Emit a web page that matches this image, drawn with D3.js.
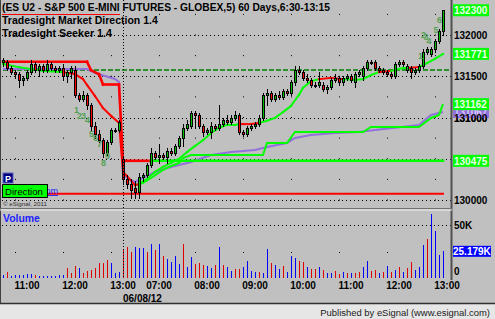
<!DOCTYPE html>
<html>
<head>
<meta charset="utf-8">
<script src="https://cdn.jsdelivr.net/npm/d3@7"></script>
<style>
body { margin: 0; background: #c0c0c0; }
svg { display: block; }
</style>
</head>
<body>
<div id="chart"></div>
<script>
const W = 495
const H = 319

// 5 minute bars, index 0 = 10:30 of the previous session, 33 = 06:30 on 06/08/12
const opens = [1316.75,1316.75,1316,1315.5,1315.25,1314.5,1314.75,1315.5,1316.5,1315.75,1316.25,1315.75,1316.5,1316,1315.75,1316,1315,1315.5,1315.75,1312.75,1312.25,1312.75,1311.5,1309,1308,1307.25,1305.75,1307,1308.5,1308.5,1305,1302.5,1302,1301.5,1301,1302.75,1303,1304.25,1305.75,1305.25,1305.5,1305.25,1306,1305.75,1306.5,1307.5,1308.75,1309,1310.5,1310.25,1309,1308.25,1308.25,1309,1308.75,1309.25,1309.75,1309.5,1310,1310.25,1308.25,1308,1308.75,1309,1309.25,1310,1312.75,1313,1312.25,1312.75,1312.5,1313.25,1313,1314.25,1315.75,1315.5,1314.75,1314.5,1314,1314,1314,1313.5,1313.75,1314.5,1314.75,1314.25,1314.75,1315,1314.25,1315.25,1315,1316,1316.75,1316.75,1316,1315.75,1315.5,1315.25,1315,1316.5,1316.75,1315.75,1316,1315.5,1315.75,1316.25,1318,1317.75,1318.25,1319.25,1320.5]
const highs = [1317.25,1317,1316.25,1315.75,1315.5,1315,1315.75,1317,1316.75,1316.5,1316.5,1317,1316.75,1316.25,1316.25,1316.5,1315.75,1316.25,1316.25,1313,1313.25,1313,1311.75,1309.5,1308.5,1307.5,1307.25,1308.75,1308.75,1309.75,1305.25,1303,1302.5,1302.25,1303.25,1303.25,1304.5,1306.25,1306,1306.75,1305.75,1306.25,1306.25,1306.75,1307.75,1309.25,1309.75,1310.75,1310.75,1310.5,1309.25,1308.75,1309.5,1309.25,1311.5,1310,1310.25,1310.25,1310.75,1310.5,1308.5,1309,1309.25,1309.5,1310.25,1313,1313.5,1313.25,1313,1313.25,1313.5,1313.5,1314.5,1316.25,1316.25,1315.75,1315.25,1314.75,1314.25,1315.5,1314.25,1314,1314.75,1315.25,1315,1315,1315.25,1315.25,1315.5,1315.75,1316.25,1317,1317,1317,1316.25,1316,1315.75,1315.5,1316.75,1317,1317,1316.5,1316.25,1316,1316.5,1318.25,1318.5,1318.5,1319.5,1320.75,1323]
const lows = [1316.25,1315.75,1315.25,1314.75,1313.75,1314,1314.5,1315.25,1315.5,1315,1315.5,1315.5,1315.75,1315.5,1315.5,1314.5,1314.25,1314.75,1312.5,1312,1312,1311,1308.5,1307.5,1307,1305.25,1305.5,1306.75,1308.25,1308.25,1302,1301.5,1300.25,1300.25,1300.25,1302.25,1302.75,1304,1305,1304.5,1305,1304.5,1305.5,1305.5,1306.25,1306.5,1308.5,1308.75,1308.75,1308.75,1307.75,1308,1307.5,1308.5,1308.5,1309,1309.25,1309.25,1309.75,1308,1307.75,1307.75,1308.5,1308.75,1309,1309.75,1311.5,1312,1312,1312.25,1312.25,1312.75,1312.75,1314,1315.25,1314.5,1314.25,1313.75,1313.75,1313.75,1313.25,1313,1313.5,1314.25,1314,1314,1314.5,1314.25,1313.75,1315,1314.5,1315.75,1316.5,1315.75,1315.5,1315.25,1315,1314.75,1314.75,1316.25,1316.25,1315.5,1314.75,1315.25,1315.5,1316,1317.75,1317.5,1318,1319,1320]
const closes = [1317,1316,1315.5,1315.25,1314.5,1314.75,1315.5,1316.5,1315.75,1316.25,1315.75,1316.5,1316,1315.75,1316,1315,1315.5,1316,1312.75,1312.25,1312.75,1311.5,1309,1308,1307.25,1305.75,1307,1308.5,1308.5,1309.5,1302.5,1302,1301.25,1301,1302.75,1303,1304.25,1305.75,1305.25,1305.5,1305.25,1306,1305.75,1306.5,1307.5,1308.75,1309.25,1310.5,1310.25,1309,1308.25,1308.5,1309,1308.75,1309.25,1309.75,1309.5,1310,1310.25,1308.25,1308,1308.75,1309,1309.25,1310,1312.75,1313,1312.25,1312.75,1312.5,1313.25,1313,1314.25,1315.75,1315.5,1314.75,1314.5,1314,1314,1314.25,1313.5,1313.75,1314.5,1314.75,1314.25,1314.75,1315,1314.5,1315.25,1315.5,1316,1316.75,1316.75,1316,1315.75,1315.5,1315.25,1315,1316.5,1316.75,1316.5,1316.25,1315.5,1315.75,1316.25,1318,1318.25,1318.25,1319.25,1320.5,1323]

// volume in thousands, and 1 = up (blue) / 0 = down (red)
const volumes = [2.8,6.0,1.9,2.8,2.8,2.8,3.5,3.5,2.8,1.9,1.9,1.9,1.9,1.9,2.8,2.8,9.1,4.4,11.3,9.1,4.4,6.9,7.5,9.1,13.8,13.8,17.0,14.5,5.0,6.0,27.0,29.6,24.8,29.6,28.0,28.0,24.8,32.1,26.4,32.1,21.1,17.9,15.4,21.1,12.9,32.1,10.7,19.8,13.2,14.5,12.3,11.3,9.1,12.3,28.9,12.3,10.7,6.9,8.2,8.2,10.7,16.4,6.6,6.0,6.0,5.0,27.0,13.8,12.3,8.5,11.3,6.0,20.8,19.2,16.0,15.4,10.1,8.8,8.5,10.1,7.5,5.0,5.0,6.9,3.8,6.0,4.4,5.0,5.0,6.0,10.7,16.4,6.9,7.5,5.0,6.0,11.3,6.0,7.5,10.1,6.0,9.1,14.8,7.5,10.7,31.1,36.5,60.4,44.7,21.7,25.179]
const volUp = [1,0,1,1,1,1,1,1,0,1,1,1,1,1,1,1,0,0,0,1,0,0,0,0,0,0,0,1,1,1,0,0,0,1,1,1,0,1,0,1,0,1,1,1,1,0,1,1,0,0,0,1,1,0,1,0,1,1,0,0,1,1,1,1,0,1,1,0,1,1,0,1,1,1,0,0,1,0,0,1,0,1,1,0,0,1,0,1,0,0,1,1,0,0,1,0,1,0,1,0,1,0,0,1,1,1,0,1,1,1,1]

// Tradesight Market Direction step line (bar index, price); 1 = green segment
const dirIdx = [0, 21, 22, 24, 25, 29, 30, 37, 110]
const dirVal = [1316.75, 1316.75, 1315.75, 1315.25, 1314.0, 1314.0, 1304.75, 1304.75, 1304.75]
const dirUp = [0, 0, 0, 0, 0, 0, 0, 1, 1]

// Tradesight Seeker fast line
const seekIdx = [0,4,10,15,18,20,21,23,25,27,29,30,31,33,34,36,38,40,42,44,46,48,50,52,54,56,58,59,60,62,64,66,68,70,72,74,75,77,79,82,85,88,90,92,94,97,100,101,104,106,108,110]
const seekVal = [1316.5,1316.1,1315.65,1315.5,1315.25,1314.65,1313.95,1312.6,1311.15,1310.2,1309.35,1303.4,1302.9,1301.8,1301.95,1302.55,1303.4,1304.0,1304.5,1305.0,1305.8,1306.55,1307.25,1308.1,1308.75,1309.1,1309.1,1309.2,1309.2,1309.2,1309.35,1309.6,1309.95,1310.65,1311.4,1312.75,1313.6,1314.4,1314.65,1314.8,1314.65,1314.55,1314.65,1315.15,1315.5,1315.65,1316.0,1316.0,1316.1,1316.6,1317.1,1317.71]
const seekUp = [1,1,1,0,0,0,0,0,0,0,0,0,0,0,1,1,1,1,1,1,1,1,1,1,1,1,1,0,0,0,1,1,1,1,1,1,1,1,0,0,1,1,1,1,0,1,1,0,1,1,1,1]

// Seeker slow trail (green)
const trailIdx = [33,35,37,40,42,44,45,47,65,66,71,73,90,92,104,107,109,110]
const trailVal = [1301.82,1302.06,1302.67,1303.64,1304.12,1304.48,1305.09,1305.45,1305.45,1306.91,1306.91,1308.24,1308.24,1308.85,1308.85,1309.94,1310.3,1311.62]

// purple average
const avgIdx = [0,21,23,28,29,30,32,33,35,38,41,44,47,52,57,63,66,71,73,77,83,89,93,104,107,110]
const avgVal = [1315.88,1315.88,1315.39,1314.67,1314.3,1303.03,1302.42,1302.18,1302.67,1303.39,1303.88,1304.24,1304.61,1305.45,1305.82,1306.06,1306.42,1306.91,1307.52,1307.88,1308.12,1308.24,1308.48,1309.09,1310.3,1310.67]

const dashLevel = 1315.75
const redLevel = 1300.75

// bar counts
const countText = ['1','2','3','4','5','6','7','8','9','1','2','3','4','5','6']
const countIdx = [18.25,19,20,21,22,23,24,25,26,104.25,105,105.6,106.4,108.1,109]
const countVal = [1310.91,1310.24,1310.24,1309.7,1308.0,1307.52,1306.79,1304.48,1305.33,1317.45,1319.94,1319.7,1319.33,1320.55,1321.76]

const priceTicks = [1320, 1315, 1310, 1305, 1300]
const priceTickLabels = ['132000', '131500', '131000', '130500', '130000']
const markVal = [1323.0, 1317.71, 1310.67, 1311.62, 1304.75]
const markText = ['132300', '131771', '131067', '131162', '130475']
const markKind = ['g', 'g', 'p', 'g', 'g']

const volTicks = [50, 0]
const volTickLabels = ['50K', '0']
const volMark = 25.179
const volMarkText = '25.179K'

const timeIdx = [6, 18, 30, 39, 51, 63, 75, 87, 99, 111]
const timeLabels = ['11:00', '12:00', '13:00', '07:00', '08:00', '09:00', '10:00', '11:00', '12:00', '13:00']
const vGridIdx = [3, 15, 27, 39, 48, 60, 72, 84, 96, 108]
const cursorIdx = 30

const svg = d3.select('#chart').append('svg')
	.attr('width', W)
	.attr('height', H)
	.style('font-family', '"Liberation Sans", Arial, sans-serif')

svg.append('rect').attr('width', W).attr('height', H).attr('fill', '#c0c0c0')

const x = d3.scaleLinear().domain([0, 110]).range([3, 443])
const y = d3.scaleLinear().domain([1300, 1320]).range([200, 35])
const yv = d3.scaleLinear().domain([0, 50]).range([278, 225])

let fit = (sel, w) => {
	let len = sel.node().getComputedTextLength()
	let fs = parseFloat(sel.attr('font-size'))
	sel.attr('font-size', (fs * w) / len)
}

svg.append('clipPath').attr('id', 'pclip').append('rect')
	.attr('x', 1).attr('y', 0).attr('width', 450).attr('height', 207)
svg.append('clipPath').attr('id', 'vclip').append('rect')
	.attr('x', 1).attr('y', 211).attr('width', 450).attr('height', 68)
svg.append('clipPath').attr('id', 'lclip').append('rect')
	.attr('x', 48).attr('y', 180).attr('width', 20).attr('height', 20)

const price = svg.append('g').attr('clip-path', 'url(#pclip)')
const vol = svg.append('g').attr('clip-path', 'url(#vclip)')

// grid
price.selectAll('line.hg')
	.data(priceTicks)
	.join('line')
	.attr('x1', 2).attr('x2', 451)
	.attr('y1', d => Math.round(y(d)) + 0.5)
	.attr('y2', d => Math.round(y(d)) + 0.5)
	.attr('stroke', '#000')
	.attr('stroke-dasharray', '1,3')

price.selectAll('line.vg')
	.data(vGridIdx)
	.join('line')
	.attr('x1', d => x(d) + 0.5).attr('x2', d => x(d) + 0.5)
	.attr('y1', y(1300) + 0.5).attr('y2', 10)
	.attr('stroke', '#000')
	.attr('stroke-dasharray', '1,' + (y(1300) - y(1302.5) - 1))

vol.append('line')
	.attr('x1', 2).attr('x2', 451)
	.attr('y1', Math.round(yv(50)) + 0.5).attr('y2', Math.round(yv(50)) + 0.5)
	.attr('stroke', '#000')
	.attr('stroke-dasharray', '1,3')

vol.selectAll('rect.vg')
	.data(vGridIdx)
	.join('rect')
	.attr('x', d => x(d)).attr('y', Math.round(yv(25)))
	.attr('width', 1).attr('height', 1)
	.attr('fill', '#000')

// cursor line
svg.append('line')
	.attr('x1', x(cursorIdx) + 0.5).attr('x2', x(cursorIdx) + 0.5)
	.attr('y1', 0).attr('y2', 279)
	.attr('stroke', '#000')
	.attr('stroke-dasharray', '1,2')

// horizontal levels
price.append('line')
	.attr('x1', x(0)).attr('x2', 451)
	.attr('y1', y(dashLevel)).attr('y2', y(dashLevel))
	.attr('stroke', '#008000')
	.attr('stroke-width', 1.6)
	.attr('stroke-dasharray', '5,2')

price.append('line')
	.attr('x1', x(0) - 1).attr('x2', x(110) + 1)
	.attr('y1', y(redLevel)).attr('y2', y(redLevel))
	.attr('stroke', '#ff0000')
	.attr('stroke-width', 2)

let segLine = (idx, val, up, width, upColor, downColor) => {
	for (let k = 0; k < idx.length - 1; k++) {
		price.append('line')
			.attr('x1', x(idx[k])).attr('y1', y(val[k]))
			.attr('x2', x(idx[k + 1])).attr('y2', y(val[k + 1]))
			.attr('stroke', up[k] ? upColor : downColor)
			.attr('stroke-width', width)
			.attr('stroke-linecap', 'square')
	}
}

let line = d3.line().x(d => x(d[0])).y(d => y(d[1]))

price.append('path')
	.attr('d', line(avgIdx.map((d, k) => [d, avgVal[k]])))
	.attr('fill', 'none')
	.attr('stroke', '#9370db')
	.attr('stroke-width', 2)

price.append('path')
	.attr('d', line(trailIdx.map((d, k) => [d, trailVal[k]])))
	.attr('fill', 'none')
	.attr('stroke', '#00ff00')
	.attr('stroke-width', 2)

segLine(seekIdx, seekVal, seekUp, 2, '#00ff00', '#ff0000')
segLine(dirIdx, dirVal, dirUp, 2.6, '#00ff00', '#ff0000')

// candles
const bars = d3.range(opens.length)

price.selectAll('line.wick')
	.data(bars)
	.join('line')
	.attr('x1', i => x(i) + 0.5).attr('x2', i => x(i) + 0.5)
	.attr('y1', i => Math.round(y(highs[i])))
	.attr('y2', i => Math.round(y(lows[i])) + 1)
	.attr('stroke', '#000')

price.selectAll('rect.body')
	.data(bars)
	.join('rect')
	.attr('x', i => x(i) - 0.5)
	.attr('width', 2)
	.attr('y', i => Math.round(y(Math.max(opens[i], closes[i]))) + 0.5)
	.attr('height', i => Math.max(1, Math.round(y(Math.min(opens[i], closes[i]))) - Math.round(y(Math.max(opens[i], closes[i])))))
	.attr('fill', i => (closes[i] > opens[i] ? '#00c000' : closes[i] < opens[i] ? '#ff0000' : '#000'))
	.attr('stroke', '#000')

// counts
price.selectAll('text.count')
	.data(countText)
	.join('text')
	.attr('x', (d, k) => x(countIdx[k]) + 0.5)
	.attr('y', (d, k) => y(countVal[k]) + 3)
	.attr('text-anchor', 'middle')
	.attr('font-size', 9)
	.attr('font-weight', 'bold')
	.attr('fill', '#55a055')
	.text(d => d)

// volume bars
vol.selectAll('line.vbar')
	.data(bars)
	.join('line')
	.attr('x1', i => x(i) + 0.5).attr('x2', i => x(i) + 0.5)
	.attr('y1', yv(0))
	.attr('y2', i => Math.round(yv(volumes[i])))
	.attr('stroke', i => (volUp[i] ? '#0000ff' : '#e00000'))

// titles
let t1 = svg.append('text').attr('x', 2).attr('y', 11).attr('font-size', 10).attr('font-weight', 'bold')
	.text('(ES U2 - S&P 500 E-MINI FUTURES - GLOBEX,5) 60 Days,6:30-13:15')
fit(t1, 328)
svg.append('line').attr('x1', 2).attr('x2', 120).attr('y1', 14.5).attr('y2', 14.5).attr('stroke', '#ff0000')
let t2 = svg.append('text').attr('x', 2).attr('y', 24).attr('font-size', 10).attr('font-weight', 'bold')
	.text('Tradesight Market Direction 1.4')
fit(t2, 156)
let t3 = svg.append('text').attr('x', 2).attr('y', 37).attr('font-size', 10).attr('font-weight', 'bold')
	.text('Tradesight Seeker 1.4')
fit(t3, 110)

// study tags at the bottom left of the price pane (link mostly hidden by the tag)
svg.append('g').attr('clip-path', 'url(#lclip)')
	.append('text').attr('x', 58).attr('y', 194).attr('text-anchor', 'end')
	.attr('font-size', 9).attr('fill', '#2020ff').attr('text-decoration', 'underline')
	.text('.com')
svg.append('rect').attr('x', 2.5).attr('y', 184.5).attr('width', 45).attr('height', 13)
	.attr('fill', '#00ff00').attr('stroke', '#000')
let dtx = svg.append('text').attr('x', 5).attr('y', 195).attr('font-size', 10).text('Direction')
fit(dtx, 38)
svg.append('rect').attr('x', 3).attr('y', 173).attr('width', 10).attr('height', 10)
	.attr('fill', '#000080').attr('stroke', '#6060c0')
svg.append('text').attr('x', 8).attr('y', 181.5).attr('text-anchor', 'middle')
	.attr('font-size', 9).attr('font-weight', 'bold').attr('fill', '#fff').text('P')
let cp = svg.append('text').attr('x', 3).attr('y', 205.5).attr('font-size', 7).attr('fill', '#303030')
	.text('\u00a9 eSignal, 2011')
fit(cp, 44)

let vt = svg.append('text').attr('x', 3).attr('y', 222).attr('font-size', 11).attr('font-weight', 'bold')
	.attr('fill', '#2020ff').text('Volume')
fit(vt, 37)

// pane frames
svg.append('line').attr('x1', 0.5).attr('x2', 0.5).attr('y1', 0).attr('y2', 304).attr('stroke', '#404040')
svg.append('line').attr('x1', 451.5).attr('x2', 451.5).attr('y1', 0).attr('y2', 280).attr('stroke', '#505050').attr('stroke-width', 2)
svg.append('line').attr('x1', 0).attr('x2', 452).attr('y1', 208.5).attr('y2', 208.5).attr('stroke', '#707070')
svg.append('line').attr('x1', 0).attr('x2', 452).attr('y1', 210).attr('y2', 210).attr('stroke', '#f0f0f0')

// right price axis; a tick label under a green value tag is not drawn
const axis = svg.append('g').attr('font-size', 10).attr('font-weight', 'bold')
const shownTicks = priceTicks.filter(t => !markVal.some((v, k) => markKind[k] === 'g' && Math.abs(y(v) - y(t)) < 6))
axis.selectAll('text.pt')
	.data(shownTicks)
	.join('text')
	.attr('x', 454)
	.attr('y', d => y(d) + 4)
	.text(d => priceTickLabels[priceTicks.indexOf(d)])

markVal.forEach((v, k) => {
	axis.append('rect')
		.attr('x', 453).attr('y', y(v) - 6).attr('width', 36).attr('height', 12)
		.attr('fill', markKind[k] === 'g' ? '#00ff00' : '#9370db')
	axis.append('text')
		.attr('x', 454).attr('y', y(v) + 4)
		.attr('fill', markKind[k] === 'g' ? '#e8ffe8' : '#d8c8ff')
		.text(markText[k])
	if (markKind[k] === 'p') {
		axis.append('text').attr('x', 454).attr('y', y(1310) + 4).text(priceTickLabels[2])
	}
})

axis.selectAll('text.vt')
	.data(volTicks)
	.join('text')
	.attr('x', 454)
	.attr('y', d => Math.min(yv(d), 271) + 4)
	.text((d, k) => volTickLabels[k])

axis.append('rect').attr('x', 453).attr('y', yv(volMark) - 5.5).attr('width', 38).attr('height', 11).attr('fill', '#0000ff')
axis.append('text').attr('x', 453).attr('y', yv(volMark) + 4).attr('fill', '#fff').text(volMarkText)

// time axis
axis.selectAll('text.tm')
	.data(timeLabels)
	.join('text')
	.attr('x', (d, k) => x(timeIdx[k]))
	.attr('y', 289)
	.attr('text-anchor', 'middle')
	.text(d => d)
axis.append('text').attr('x', x(cursorIdx)).attr('y', 302).text('06/08/12')

// footer
svg.append('rect').attr('x', 0).attr('y', 304).attr('width', W).attr('height', 15).attr('fill', '#e6e6e6')
svg.append('line').attr('x1', 0).attr('x2', W).attr('y1', 303.5).attr('y2', 303.5).attr('stroke', '#303030').attr('stroke-width', 1.5)
let pub = svg.append('text').attr('x', 490).attr('y', 315.5).attr('text-anchor', 'end')
	.attr('font-size', 10).attr('fill', '#202020').text('Published by eSignal (www.esignal.com)')
fit(pub, 170)
</script>
</body>
</html>
